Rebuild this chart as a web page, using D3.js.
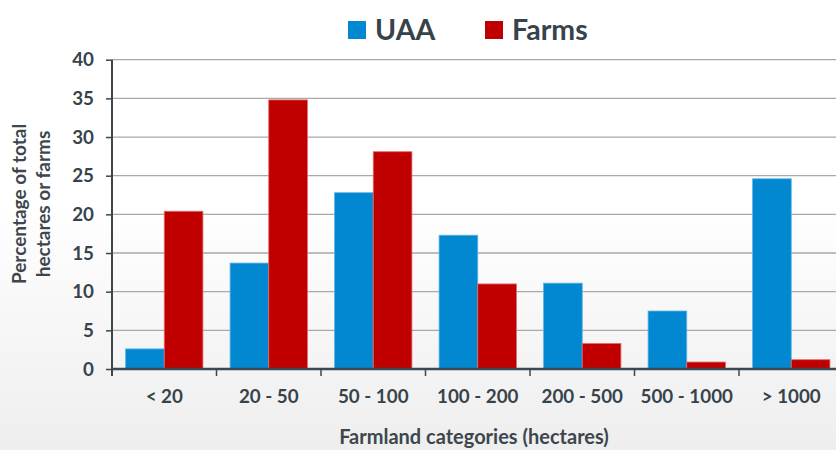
<!DOCTYPE html>
<html>
<head>
<meta charset="utf-8">
<script src="https://cdn.jsdelivr.net/npm/d3@7"></script>
<style>
  html, body { margin: 0; padding: 0; }
  body { width: 836px; height: 450px; overflow: hidden;
         background: linear-gradient(to bottom, #ffffff 0%, #ffffff 45%, #eeeeee 100%); }
  svg { display: block; font-family: Lato, "Open Sans", sans-serif; }
</style>
</head>
<body>
<svg id="chart" width="836" height="450"></svg>
<script>
// Farm size distribution: share of utilised agricultural area vs share of farms
const categories = ["< 20", "20 - 50", "50 - 100", "100 - 200", "200 - 500", "500 - 1000", "> 1000"];
const seriesNames = ["UAA", "Farms"];
const uaaValues = [2.6, 13.7, 22.8, 17.3, 11.1, 7.5, 24.6];
const farmValues = [20.4, 34.8, 28.1, 11.0, 3.3, 0.9, 1.2];
const yTicks = [0, 5, 10, 15, 20, 25, 30, 35, 40];
const colors = ["#0288d1", "#c00000"];

const svg = d3.select("#chart");
const margin = { left: 112, top: 59.7, bottom: 81 };
const bandW = 104.5;
const x0 = d3.scaleBand().domain(categories)
  .range([margin.left, margin.left + bandW * categories.length])
  .paddingInner(0.26).paddingOuter(0.13);
const band = d3.scaleBand().domain(categories)
  .range([margin.left, margin.left + bandW * categories.length]);
const x1 = d3.scaleBand().domain(seriesNames).range([0, x0.bandwidth()]);
const y = d3.scaleLinear().domain([0, 40]).range([369, margin.top]);

const textColor = "#37434b";
const axisColor = "#3b474f";

// gridlines
svg.append("g").selectAll("line").data(yTicks.filter(d => d > 0)).join("line")
  .attr("x1", margin.left).attr("x2", 836)
  .attr("y1", d => y(d)).attr("y2", d => y(d))
  .attr("stroke", "#a9a9a9").attr("stroke-width", 1.3);

// bars
const rows = categories.map((c, i) => ({ cat: c, vals: [uaaValues[i], farmValues[i]] }));
const g = svg.append("g");
rows.forEach(r => {
  r.vals.forEach((v, j) => {
    g.append("rect")
      .attr("x", x0(r.cat) + x1(seriesNames[j]))
      .attr("y", y(v))
      .attr("width", x1.bandwidth())
      .attr("height", y(0) - y(v))
      .attr("fill", colors[j])
      .attr("stroke", j === 0 ? "#5fb4e4" : "#e06a6a")
      .attr("stroke-width", 0.8);
  });
});

// y axis
const yAxis = d3.axisLeft(y).tickValues(yTicks).tickSize(6).tickPadding(12);
const ya = svg.append("g").attr("transform", `translate(${margin.left},0)`).call(yAxis);
ya.select(".domain").attr("stroke", axisColor).attr("stroke-width", 2).attr("d", `M0,${y(40)}V${y(0) + 7}`);
ya.selectAll(".tick line").attr("stroke", axisColor).attr("stroke-width", 1.5);
ya.selectAll(".tick text").attr("fill", textColor).style("font-size", "18.8px").style("font-weight", "bold")
  .style("font-family", "Lato, 'Open Sans', sans-serif");

// x axis
const xa = svg.append("g").attr("transform", `translate(0,${y(0)})`);
xa.append("line").attr("x1", margin.left).attr("x2", 836).attr("y1", 0).attr("y2", 0)
  .attr("stroke", axisColor).attr("stroke-width", 2.5);
xa.selectAll(".xt").data(categories.slice(1)).join("line")
  .attr("x1", d => band(d)).attr("x2", d => band(d)).attr("y1", 0).attr("y2", 7)
  .attr("stroke", axisColor).attr("stroke-width", 1.5);
xa.selectAll("text").data(categories).join("text")
  .attr("x", d => band(d) + band.bandwidth() / 2)
  .attr("y", 34)
  .attr("text-anchor", "middle")
  .attr("fill", textColor).style("font-size", "18.8px").style("font-weight", "bold")
  .text(d => d);

// axis titles
svg.append("text").attr("x", 474).attr("y", 444).attr("text-anchor", "middle")
  .attr("fill", "#3d464d").style("font-size", "20px").style("font-weight", "bold")
  .text("Farmland categories (hectares)");
const yt = svg.append("text").attr("transform", "translate(0,204) rotate(-90)")
  .attr("text-anchor", "middle").attr("fill", "#3d464d")
  .style("font-size", "19px").style("font-weight", "bold");
yt.append("tspan").attr("x", 0).attr("y", 26).text("Percentage of total");
yt.append("tspan").attr("x", 0).attr("y", 50).text("hectares or farms");

// legend
const legendX = [348, 485];
seriesNames.forEach((n, i) => {
  svg.append("rect").attr("x", legendX[i]).attr("y", 21).attr("width", 18).attr("height", 18)
    .attr("fill", colors[i]);
  svg.append("text").attr("x", legendX[i] + 27).attr("y", 39.5)
    .attr("fill", textColor).style("font-size", "28.5px").style("font-weight", "bold")
    .text(n);
});
</script>
</body>
</html>
